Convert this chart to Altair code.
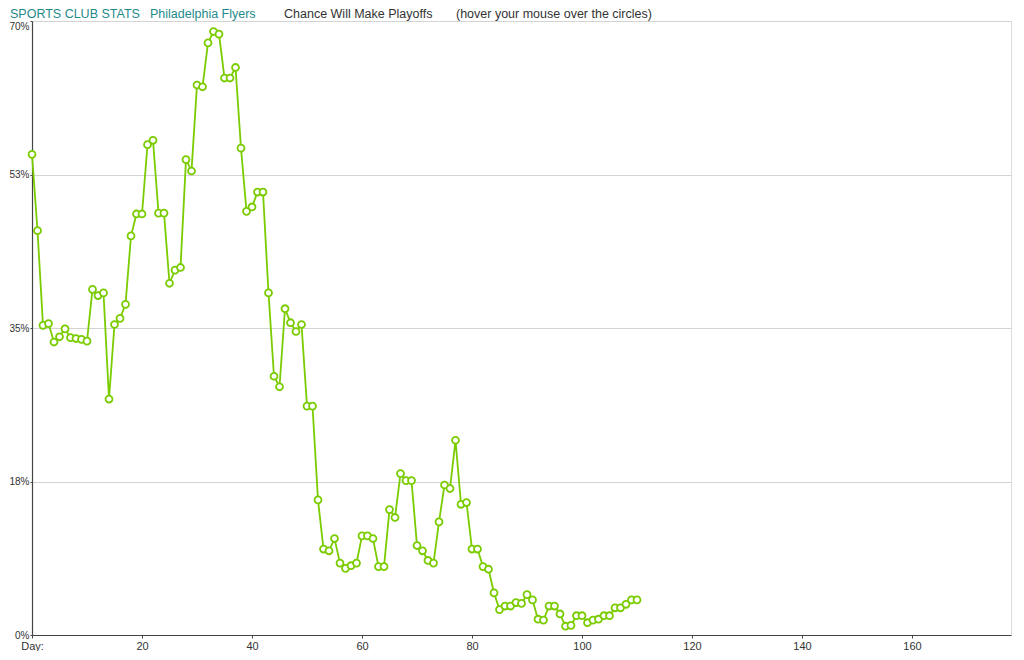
import altair as alt
import pandas as pd

# ---------------- data ----------------
days = list(range(111))
chance = [
    54.8, 46.1, 35.3, 35.5, 33.4, 34.0, 34.9, 33.9, 33.8, 33.7,
    33.5, 39.4, 38.7, 39.0, 26.9, 35.4, 36.1, 37.7, 45.5, 48.0,
    48.0, 55.9, 56.4, 48.1, 48.1, 40.1, 41.6, 41.9, 54.2, 52.9,
    62.7, 62.5, 67.5, 68.8, 68.5, 63.5, 63.5, 64.7, 55.5, 48.3,
    48.8, 50.5, 50.5, 39.0, 29.5, 28.3, 37.2, 35.6, 34.6, 35.4,
    26.1, 26.1, 15.4, 9.8, 9.6, 11.0, 8.2, 7.6, 7.9, 8.2,
    11.3, 11.3, 11.0, 7.8, 7.8, 14.3, 13.4, 18.4, 17.6, 17.6,
    10.2, 9.6, 8.5, 8.2, 12.9, 17.1, 16.7, 22.2, 14.9, 15.1,
    9.8, 9.8, 7.8, 7.5, 4.8, 2.9, 3.3, 3.3, 3.7, 3.6,
    4.6, 4.0, 1.8, 1.7, 3.3, 3.3, 2.4, 1.0, 1.1, 2.2,
    2.2, 1.4, 1.7, 1.8, 2.2, 2.2, 3.1, 3.1, 3.5, 4.0,
    4.0,
]

title_parts = [
    "SPORTS CLUB STATS",
    "Philadelphia Flyers",
    "Chance Will Make Playoffs",
    "(hover your mouse over the circles)",
]
title_colors = ["#1e8a8c", "#1e8a8c", "#333333", "#333333"]
title_x = [-22, 118, 252, 424]

y_ticks = [0, 17.5, 35, 52.5, 70]
y_labels = ["0%", "18%", "35%", "53%", "70%"]
x_ticks = [0, 20, 40, 60, 80, 100, 120, 140, 160]
x_labels = ["Day:", "20", "40", "60", "80", "100", "120", "140", "160"]

df = pd.DataFrame({"Day": days, "Chance": chance})


def label_expr(values, labels):
    expr = "datum.label"
    for v, l in reversed(list(zip(values, labels))):
        expr = f"datum.value == {v} ? '{l}' : ({expr})"
    return expr


GREEN = "#7acc00"
FONT = "Liberation Sans"
AXFONT = "Liberation Sans Narrow, Liberation Sans, Arial"

x_enc = alt.X(
    "Day:Q",
    scale=alt.Scale(domain=[0, 178], nice=False, zero=True),
    axis=alt.Axis(
        values=x_ticks,
        labelExpr=label_expr(x_ticks, x_labels),
        labelFlush=False,
        grid=False,
        title=None,
        domainColor="#444444",
        tickColor="#444444",
        tickSize=3,
        labelPadding=2,
        labelFont=AXFONT,
        labelFontSize=11,
        labelColor="#333333",
    ),
)
y_enc = alt.Y(
    "Chance:Q",
    scale=alt.Scale(domain=[0, 70], nice=False, zero=True),
    axis=alt.Axis(
        values=y_ticks,
        labelExpr=label_expr(y_ticks, y_labels),
        labelFlush=False,
        labelBaseline={
            "condition": {"test": f"datum.value == {y_ticks[-1]}", "value": "top"},
            "value": "middle",
        },
        grid=True,
        gridColor="#d3d3d3",
        gridWidth=1,
        title=None,
        domainColor="#444444",
        domainWidth=1.2,
        tickColor="#444444",
        tickSize=2,
        labelPadding=1,
        labelFont=AXFONT,
        labelFontSize=10,
        labelColor="#333333",
    ),
)

base = alt.Chart(df)

line = base.mark_line(color=GREEN, strokeWidth=1.8).encode(x=x_enc, y=y_enc)

points = base.mark_point(
    shape="circle",
    filled=True,
    fill="white",
    stroke=GREEN,
    strokeWidth=1.8,
    size=48,
    opacity=1,
).encode(
    x="Day:Q",
    y="Chance:Q",
    tooltip=[alt.Tooltip("Day:Q"), alt.Tooltip("Chance:Q", format=".1f")],
)

titles = []
for txt, col, xp in zip(title_parts, title_colors, title_x):
    titles.append(
        alt.Chart(pd.DataFrame({"t": [txt]}))
        .mark_text(
            align="left",
            baseline="alphabetic",
            font=FONT,
            fontSize=12.5,
            color=col,
            clip=False,
        )
        .encode(text="t:N", x=alt.value(xp), y=alt.value(-3.5))
    )

chart = (
    alt.layer(line, points, *titles)
    .properties(
        width=979,
        height=614,
        autosize=alt.AutoSizeParams(type="none"),
        padding={"left": 24, "top": 13, "right": 3, "bottom": 16},
    )
    .configure_view(stroke=None)
    .configure(background="white")
)

chart.save("out.html", embed_options={"renderer": "svg", "actions": False})
